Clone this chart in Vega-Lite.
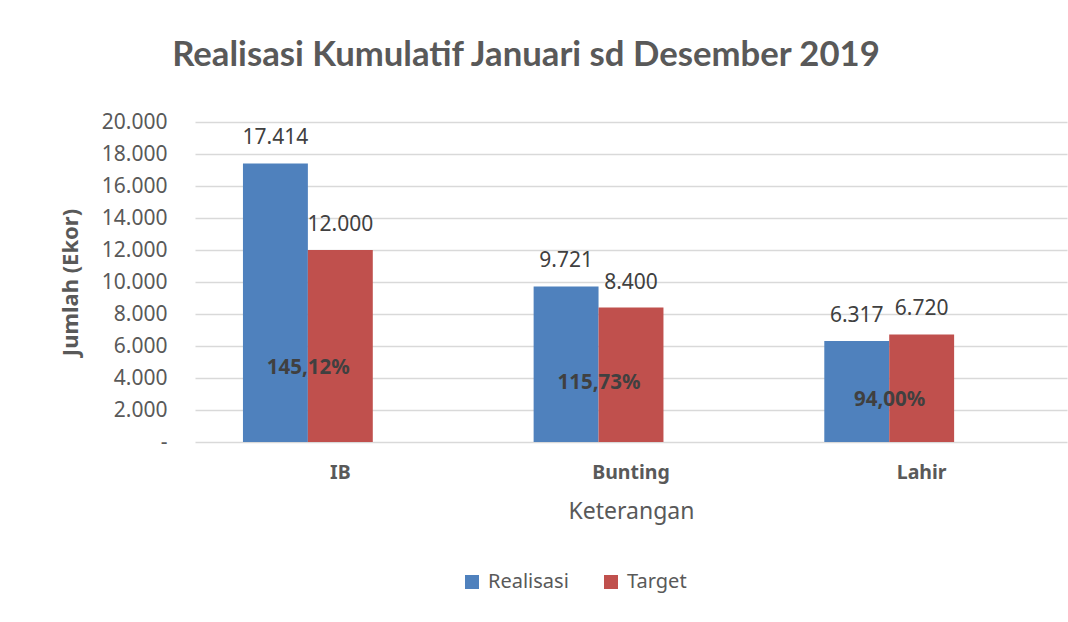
{
  "$schema": "https://vega.github.io/schema/vega-lite/v6.json",
  "width": 872,
  "height": 320,
  "autosize": {"type": "none"},
  "padding": {"left": 195, "top": 122, "right": 1, "bottom": 180},
  "background": "white",
  "title": {
    "text": "Realisasi Kumulatif Januari sd Desember 2019",
    "font": "Lato",
    "fontSize": 34.7,
    "fontWeight": "bold",
    "color": "#595959",
    "anchor": "middle",
    "frame": "group",
    "dx": -105,
    "offset": 37
  },
  "config": {
    "view": {"stroke": null},
    "font": "Noto Sans"
  },
  "datasets": {
    "bars": [
      {"kategori": "IB", "seri": "Realisasi", "nilai": 17414, "label": "17.414"},
      {"kategori": "IB", "seri": "Target", "nilai": 12000, "label": "12.000"},
      {"kategori": "Bunting", "seri": "Realisasi", "nilai": 9721, "label": "9.721"},
      {"kategori": "Bunting", "seri": "Target", "nilai": 8400, "label": "8.400"},
      {"kategori": "Lahir", "seri": "Realisasi", "nilai": 6317, "label": "6.317"},
      {"kategori": "Lahir", "seri": "Target", "nilai": 6720, "label": "6.720"}
    ],
    "pct": [
      {"kategori": "IB", "persen": "145,12%", "nilai": 4600},
      {"kategori": "Bunting", "persen": "115,73%", "nilai": 3700},
      {"kategori": "Lahir", "persen": "94,00%", "nilai": 2650}
    ]
  },
  "encoding": {
    "x": {
      "field": "kategori",
      "type": "nominal",
      "sort": ["IB", "Bunting", "Lahir"],
      "scale": {"paddingInner": 0.33, "paddingOuter": 0.165},
      "axis": {
        "title": "Keterangan",
        "labelAngle": 0,
        "labelFont": "Noto Sans",
        "labelFontSize": 19.5,
        "labelFontWeight": "bold",
        "labelColor": "#595959",
        "labelPadding": 21,
        "domain": false,
        "ticks": false,
        "titleFont": "Noto Sans",
        "titleFontSize": 23,
        "titleFontWeight": "normal",
        "titleColor": "#595959",
        "titlePadding": 19
      }
    },
    "y": {
      "field": "nilai",
      "type": "quantitative",
      "scale": {"domain": [0, 20000], "nice": false},
      "axis": {
        "title": "Jumlah (Ekor)",
        "values": [0, 2000, 4000, 6000, 8000, 10000, 12000, 14000, 16000, 18000, 20000],
        "tickCount": 20,
        "labelExpr": "datum.value == 0 ? '-' : replace(format(datum.value, ','), ',', '.')",
        "labelOverlap": false,
        "labelFont": "Noto Sans",
        "labelFontSize": 21,
        "labelColor": "#595959",
        "labelPadding": 28,
        "domain": false,
        "ticks": false,
        "grid": true,
        "gridColor": "#d9d9d9",
        "gridWidth": 1.5,
        "titleFont": "Noto Sans",
        "titleFontSize": 22,
        "titleFontWeight": "bold",
        "titleColor": "#595959",
        "titlePadding": 19
      }
    }
  },
  "layer": [
    {
      "data": {"name": "bars"},
      "mark": {"type": "bar"},
      "encoding": {
        "xOffset": {
          "field": "seri",
          "type": "nominal",
          "scale": {"domain": ["Realisasi", "Target", "Persen"], "paddingInner": 0, "paddingOuter": 0}
        },
        "color": {
          "field": "seri",
          "type": "nominal",
          "scale": {"domain": ["Realisasi", "Target"], "range": ["#4f81bd", "#c0504d"]},
          "legend": {
            "title": null,
            "orient": "none",
            "direction": "horizontal",
            "legendX": 267,
            "legendY": 450,
            "symbolType": "square",
            "symbolSize": 196,
            "symbolStrokeWidth": 0,
            "labelFont": "Noto Sans",
            "labelFontSize": 20,
            "labelColor": "#595959",
            "labelOffset": 6,
            "columnPadding": 32
          }
        }
      }
    },
    {
      "data": {"name": "bars"},
      "mark": {"type": "text", "baseline": "middle", "dy": -25, "fontSize": 21, "font": "Noto Sans", "color": "#404040"},
      "encoding": {
        "xOffset": {"field": "seri", "type": "nominal"},
        "text": {"field": "label"}
      }
    },
    {
      "data": {"name": "pct"},
      "mark": {"type": "text", "baseline": "middle", "dx": -32, "fontSize": 20.5, "font": "Noto Sans", "fontWeight": "bold", "color": "#404040"},
      "encoding": {
        "xOffset": {"datum": "Target"},
        "text": {"field": "persen"}
      }
    }
  ]
}
